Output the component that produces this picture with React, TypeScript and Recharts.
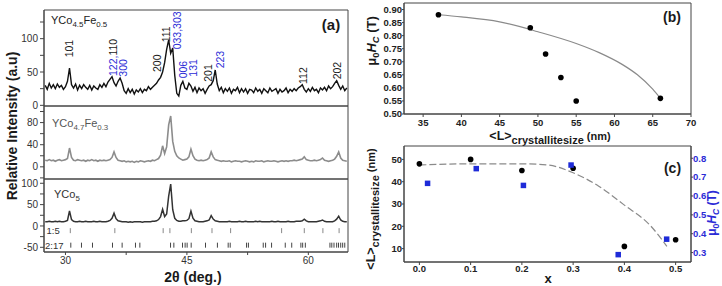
import React from 'react';
import { ComposedChart, Line, Scatter, XAxis, YAxis, ReferenceArea } from 'recharts';

const FONT = "'Liberation Sans', Arial, Helvetica, sans-serif";
const BLUE = '#2b2bd6';
const INK = '#1a1a1a';
const FRAME = '#444';

// ---------- Panel (a): XRD patterns ----------
const twoThetaStart = 27.5;
const twoThetaStep = 0.25;

const intensityFe05 = [
  30, 24,
  33, 26, 31, 25, 32, 27, 30, 24, 28, 36, 56, 31, 26, 32, 23, 30,
  25, 31, 27, 24, 30, 23, 29, 26, 24, 31, 27, 33, 28, 35, 39, 43,
  34, 29, 36, 41, 33, 22, 18, 25, 19, 24, 17, 23, 20, 25, 19, 24,
  22, 28, 24, 27, 30, 33, 38, 42, 50, 64, 84, 98, 78, 86, 45, 18,
  14, 30, 36, 26, 24, 33, 29, 21, 27, 19, 26, 22, 25, 18, 24, 29,
  31, 37, 53, 32, 22, 27, 19, 25, 21, 26, 18, 24, 22, 27, 19, 25,
  20, 25, 18, 24, 23, 19, 26, 21, 24, 18, 25, 22, 19, 26, 21, 23,
  25, 18, 24, 20, 22, 26, 19, 24, 21, 25, 22, 26, 28, 31, 24, 20,
  25, 21, 27, 22, 24, 19, 26, 23, 27, 22, 29, 25, 28, 33, 37, 30,
  24, 29, 22, 26,
];

const intensityFe03 = [
  12, 11,
  13, 11, 12, 10, 12, 13, 11, 12, 13, 15, 34, 17, 12, 11, 13, 12,
  11, 12, 10, 12, 11, 13, 11, 12, 10, 12, 11, 12, 11, 12, 13, 17,
  27, 17, 12, 11, 10, 11, 9, 10, 9, 10, 8, 10, 9, 11, 10, 9,
  10, 11, 10, 12, 11, 13, 15, 21, 38, 24, 36, 76, 92, 46, 28, 20,
  16, 14, 12, 13, 14, 18, 32, 20, 14, 12, 11, 12, 11, 12, 13, 16,
  27, 18, 13, 12, 11, 10, 11, 10, 10, 11, 9, 10, 11, 10, 10, 9,
  10, 11, 10, 9, 10, 9, 11, 10, 10, 11, 9, 10, 11, 10, 10, 11,
  10, 9, 10, 11, 10, 11, 10, 11, 11, 12, 11, 12, 13, 14, 18, 13,
  12, 11, 11, 12, 11, 12, 13, 16, 12, 11, 10, 11, 12, 14, 19, 27,
  16, 12, 11, 10,
];

const intensityCo5 = [
  10, 10,
  11, 10, 10, 11, 10, 11, 10, 10, 11, 13, 35, 15, 11, 10, 10, 11,
  10, 10, 11, 10, 10, 10, 11, 10, 10, 11, 10, 10, 10, 11, 13, 18,
  30, 17, 12, 11, 10, 10, 10, 9, 10, 9, 10, 10, 10, 10, 9, 10,
  10, 10, 10, 11, 11, 12, 15, 22, 39, 22, 28, 70, 98, 38, 18, 13,
  11, 11, 12, 12, 13, 17, 35, 18, 12, 11, 10, 10, 10, 11, 12, 14,
  24, 16, 12, 11, 10, 10, 10, 10, 10, 11, 10, 10, 10, 10, 11, 10,
  10, 11, 10, 10, 10, 10, 11, 10, 11, 10, 10, 10, 10, 10, 11, 10,
  10, 11, 10, 10, 10, 10, 11, 10, 10, 10, 11, 11, 11, 12, 16, 12,
  10, 10, 10, 10, 10, 11, 12, 14, 11, 10, 10, 10, 10, 12, 16, 23,
  14, 11, 10, 10,
];

const peakLabels = [
  { twoTheta: 30.5, height: 72, parts: [['101', INK]] },
  { twoTheta: 35.85, height: 44, parts: [['122,', BLUE], ['110', INK]] },
  { twoTheta: 37.1, height: 43, parts: [['300', BLUE]] },
  { twoTheta: 41.32, height: 50, parts: [['200', INK]] },
  { twoTheta: 42.38, height: 94.5, parts: [['111', INK]] },
  { twoTheta: 43.8, height: 84, parts: [['033,303', BLUE]] },
  { twoTheta: 44.46, height: 40.5, parts: [['006', BLUE]] },
  { twoTheta: 45.7, height: 43, parts: [['131', BLUE]] },
  { twoTheta: 47.67, height: 35.4, parts: [['201', INK]] },
  { twoTheta: 49.03, height: 55.5, parts: [['223', BLUE]] },
  { twoTheta: 59.3, height: 32, parts: [['112', INK]] },
  { twoTheta: 63.53, height: 39, parts: [['202', INK]] },
];

const phase15Positions = [30.6, 36.1, 42.07, 42.9, 45.55, 48.1, 50.4, 56.7, 59.5, 61.8, 63.8];
const phase217Positions = [
  30.66, 31.98, 33.34, 35.81, 37.0, 38.65, 39.19, 42.98, 43.39, 44.46, 44.78, 45.03,
  45.53, 47.3, 48.77, 50.1, 50.35, 52.37, 52.6, 54.43, 54.72, 55.46, 57.15, 57.95,
  59.08, 59.3, 59.63, 62.67, 62.9, 63.17, 63.5, 63.73, 64.0, 64.24, 64.5,
];
const phase15Level = -11;
const phase217Level = -45;

// ---------- Panel (b) ----------
const sizeB = [37, 49, 51, 53, 55, 66];
const coercivityB = [0.88, 0.83, 0.73, 0.64, 0.55, 0.56];
const fitSizeB = [37, 40, 45, 50, 55, 58, 61, 63, 65, 66];
const fitCoercB = [0.88, 0.872, 0.853, 0.815, 0.77, 0.735, 0.69, 0.65, 0.595, 0.56];

// ---------- Panel (c) ----------
const feContent = [0, 0.1, 0.2, 0.3, 0.4, 0.5];
const sizeC = [48, 50, 45, 46, 11, 14];
const feContentH = [0.016, 0.111, 0.203, 0.296, 0.388, 0.4825];
const coercC = [0.667, 0.745, 0.656, 0.764, 0.289, 0.371];
const fitContentC = [0, 0.1, 0.2, 0.25, 0.3, 0.35, 0.4, 0.45, 0.483];
const fitSizeC = [47.5, 48, 48, 47.5, 44, 38, 29.5, 20.5, 11];

// ---------- helpers ----------
const toXY = (arr: number[]) => arr.map((v, i) => ({ x: twoThetaStart + i * twoThetaStep, y: v }));
const pairs = (xs: number[], ys: number[]) => xs.map((x, i) => ({ x, y: ys[i] }));

const X_DOMAIN: [number, number] = [27.35, 64.9];
const tickA = { fontSize: 10, fill: '#333', fontFamily: FONT };
const tickBold = { fontSize: 9.5, fill: '#222', fontFamily: FONT, fontWeight: 700 };
const tickBoldBlue = { fontSize: 9.5, fill: BLUE, fontFamily: FONT, fontWeight: 700 };

const PeakLabel = (props: any) => {
  const { cx, cy } = props;
  const p = props.payload || props;
  if (cx == null || cy == null) return null;
  return (
    <text
      x={cx}
      y={cy}
      transform={`rotate(-90 ${cx} ${cy})`}
      fontSize={10.5}
      fontFamily={FONT}
      dominantBaseline="central"
      textAnchor="start"
    >
      {p.parts.map((part: string[], i: number) => (
        <tspan key={i} fill={part[1]}>{part[0]}</tspan>
      ))}
    </text>
  );
};

const makeTick = (color: string) => (props: any) => {
  const { cx, cy } = props;
  if (cx == null || cy == null) return null;
  return <line x1={cx} x2={cx} y1={cy - 2.5} y2={cy + 2.5} stroke={color} strokeWidth={1} />;
};

const Circle = (color: string, r: number) => (props: any) => {
  const { cx, cy } = props;
  if (cx == null || cy == null) return null;
  return <circle cx={cx} cy={cy} r={r} fill={color} />;
};
const Square = (color: string, s: number) => (props: any) => {
  const { cx, cy } = props;
  if (cx == null || cy == null) return null;
  return <rect x={cx - s / 2} y={cy - s / 2} width={s} height={s} fill={color} />;
};

const Txt = ({ x, y, rot, left, style, children }: any) => (
  <div
    style={{
      position: 'absolute',
      left: x,
      top: y,
      transform: `translate(${left ? '0' : '-50%'},-50%)${rot ? ' rotate(-90deg)' : ''}`,
      whiteSpace: 'nowrap',
      fontFamily: FONT,
      lineHeight: 1,
      color: INK,
      ...style,
    }}
  >
    {children}
  </div>
);
const Sub = ({ children }: any) => (
  <span style={{ fontSize: '0.72em', verticalAlign: '-0.35em', lineHeight: 1 }}>{children}</span>
);

const fmtEvery = (n: number) => (v: number) => (Math.abs(v % n) < 1e-9 ? String(v) : '');

// ---------- components ----------
const XrdChart = ({ top, height, margin, yDomain, yTicks, yFmt, data, color, width, showX, children }: any) => (
  <div style={{ position: 'absolute', left: 0, top }}>
    <ComposedChart width={350} height={height} margin={margin}>
      <XAxis
        xAxisId="x"
        type="number"
        dataKey="x"
        domain={X_DOMAIN}
        allowDataOverflow
        ticks={[30, 37.5, 45, 52.5, 60]}
        tickFormatter={(v: number) => ([30, 45, 60].includes(v) ? String(v) : '')}
        interval={0}
        hide={!showX}
        height={20}
        tick={tickA}
        tickSize={3}
        tickMargin={2}
        stroke={FRAME}
      />
      <YAxis
        yAxisId="y"
        type="number"
        domain={yDomain}
        allowDataOverflow
        ticks={yTicks}
        tickFormatter={yFmt}
        interval={0}
        width={30}
        tick={tickA}
        tickSize={4}
        tickMargin={2}
        stroke={FRAME}
      />
      <ReferenceArea
        xAxisId="x"
        yAxisId="y"
        x1={X_DOMAIN[0]}
        x2={X_DOMAIN[1]}
        y1={yDomain[0]}
        y2={yDomain[1]}
        fill="none"
        stroke={FRAME}
        strokeWidth={1}
        ifOverflow="visible"
      />
      <Line
        xAxisId="x"
        yAxisId="y"
        data={data}
        dataKey="y"
        type="linear"
        stroke={color}
        strokeWidth={width}
        dot={false}
        isAnimationActive={false}
      />
      {children}
    </ComposedChart>
  </div>
);

const SizeLabel = () => (
  <>
    &lt;L&gt;<span style={{ fontSize: 11, verticalAlign: '-0.45em', lineHeight: 1 }}>crystallitesize</span>
    <span style={{ fontSize: 11 }}> (nm)</span>
  </>
);

export default function App() {
  const dataFe05 = toXY(intensityFe05);
  const dataFe03 = toXY(intensityFe03);
  const dataCo5 = toXY(intensityCo5);
  const labelData = peakLabels.map((p) => ({ x: p.twoTheta, y: p.height, parts: p.parts }));
  const ph15 = phase15Positions.map((x) => ({ x, y: phase15Level }));
  const ph217 = phase217Positions.map((x) => ({ x, y: phase217Level }));

  return (
    <div
      style={{
        position: 'absolute',
        left: 0,
        top: 0,
        width: 722,
        height: 286,
        background: '#fff',
        overflow: 'hidden',
      }}
    >
      {/* Panel (a) */}
      <XrdChart
        top={0}
        height={110}
        margin={{ top: 10, right: 2, bottom: 4, left: 14 }}
        yDomain={[-1, 143]}
        yTicks={[0, 25, 50, 75, 100, 125]}
        yFmt={fmtEvery(50)}
        data={dataFe05}
        color="#111"
        width={1.4}
      >
        <Scatter
          xAxisId="x"
          yAxisId="y"
          data={labelData}
          dataKey="y"
          shape={PeakLabel}
          isAnimationActive={false}
        />
      </XrdChart>
      <XrdChart
        top={100}
        height={83}
        margin={{ top: 6, right: 2, bottom: 4, left: 14 }}
        yDomain={[-22, 110]}
        yTicks={[-20, 0, 20, 40, 60, 80, 100]}
        yFmt={(v: number) => ([0, 40, 80].includes(v) ? String(v) : '')}
        data={dataFe03}
        color="#8c8c8c"
        width={1.6}
      />
      <XrdChart
        top={173}
        height={99}
        margin={{ top: 6, right: 2, bottom: 0, left: 14 }}
        yDomain={[-61, 110]}
        yTicks={[-50, -25, 0, 25, 50, 75, 100]}
        yFmt={fmtEvery(50)}
        data={dataCo5}
        color="#333"
        width={1.5}
        showX
      >
        <Scatter xAxisId="x" yAxisId="y" data={ph15} dataKey="y" shape={makeTick('#888')} isAnimationActive={false} />
        <Scatter xAxisId="x" yAxisId="y" data={ph217} dataKey="y" shape={makeTick('#444')} isAnimationActive={false} />
      </XrdChart>

      <Txt x={12} y={126} rot style={{ fontSize: 14, fontWeight: 700 }}>Relative Intensity (a.u)</Txt>
      <Txt x={193} y={277} style={{ fontSize: 14, fontWeight: 700 }}>2θ (deg.)</Txt>
      <Txt x={331} y={24} style={{ fontSize: 15, fontWeight: 700 }}>(a)</Txt>
      <Txt x={51} y={22} left style={{ fontSize: 11, color: '#222' }}>
        YCo<Sub>4.5</Sub>Fe<Sub>0.5</Sub>
      </Txt>
      <Txt x={52} y={125} left style={{ fontSize: 11, color: '#555' }}>
        YCo<Sub>4.7</Sub>Fe<Sub>0.3</Sub>
      </Txt>
      <Txt x={54} y={196} left style={{ fontSize: 11, color: '#333' }}>
        YCo<Sub>5</Sub>
      </Txt>
      <Txt x={46.5} y={231} left style={{ fontSize: 9.5, color: '#333' }}>1:5</Txt>
      <Txt x={45} y={245.5} left style={{ fontSize: 9.5, color: '#333' }}>2:17</Txt>

      {/* Panel (b) */}
      <div style={{ position: 'absolute', left: 360, top: 0 }}>
        <ComposedChart width={362} height={140} margin={{ top: 3, right: 31, bottom: 0, left: 4 }}>
          <XAxis
            xAxisId="x"
            type="number"
            dataKey="x"
            domain={[32.5, 70]}
            allowDataOverflow
            ticks={[35, 40, 45, 50, 55, 60, 65, 70]}
            interval={0}
            height={26}
            tick={tickBold}
            tickSize={3}
            tickMargin={2}
            stroke={FRAME}
          />
          <YAxis
            yAxisId="y"
            type="number"
            domain={[0.5, 0.925]}
            allowDataOverflow
            ticks={[0.5, 0.55, 0.6, 0.65, 0.7, 0.75, 0.8, 0.85, 0.9]}
            tickFormatter={(v: number) => v.toFixed(2)}
            interval={0}
            width={40}
            tick={tickBold}
            tickSize={2}
            tickMargin={0}
            stroke={FRAME}
          />
          <ReferenceArea
            xAxisId="x"
            yAxisId="y"
            x1={32.5}
            x2={70}
            y1={0.5}
            y2={0.925}
            fill="none"
            stroke={FRAME}
            ifOverflow="visible"
          />
          <Line
            xAxisId="x"
            yAxisId="y"
            data={pairs(fitSizeB, fitCoercB)}
            dataKey="y"
            type="monotone"
            stroke="#8a8a8a"
            strokeWidth={1.2}
            dot={false}
            isAnimationActive={false}
          />
          <Scatter
            xAxisId="x"
            yAxisId="y"
            data={pairs(sizeB, coercivityB)}
            dataKey="y"
            shape={Circle('#000', 2.8)}
            isAnimationActive={false}
          />
        </ComposedChart>
      </div>
      <Txt x={672} y={17} style={{ fontSize: 14, fontWeight: 700 }}>(b)</Txt>
      <Txt x={373} y={41} rot style={{ fontSize: 13, fontWeight: 700 }}>
        μ<Sub>0</Sub><i>H</i><Sub><i>C</i></Sub> (T)
      </Txt>
      <Txt x={550} y={138} style={{ fontSize: 12.5, fontWeight: 700 }}>
        <SizeLabel />
      </Txt>

      {/* Panel (c) */}
      <div style={{ position: 'absolute', left: 360, top: 140 }}>
        <ComposedChart width={362} height={146} margin={{ top: 6, right: 5, bottom: 0, left: 4 }}>
          <XAxis
            xAxisId="x"
            type="number"
            dataKey="x"
            domain={[-0.03, 0.53]}
            allowDataOverflow
            ticks={[0, 0.1, 0.2, 0.3, 0.4, 0.5]}
            tickFormatter={(v: number) => v.toFixed(1)}
            interval={0}
            height={24}
            tick={tickBold}
            tickSize={3}
            tickMargin={0}
            stroke={FRAME}
          />
          <YAxis
            yAxisId="L"
            type="number"
            domain={[4, 56]}
            allowDataOverflow
            ticks={[10, 20, 30, 40, 50]}
            interval={0}
            width={40}
            tick={tickBold}
            tickSize={2}
            tickMargin={0}
            stroke={FRAME}
          />
          <YAxis
            yAxisId="R"
            orientation="right"
            type="number"
            domain={[0.25, 0.865]}
            allowDataOverflow
            ticks={[0.3, 0.4, 0.5, 0.6, 0.7, 0.8]}
            tickFormatter={(v: number) => v.toFixed(1)}
            interval={0}
            width={26}
            tick={tickBoldBlue}
            tickSize={2}
            tickMargin={0}
            stroke={FRAME}
          />
          <ReferenceArea
            xAxisId="x"
            yAxisId="L"
            x1={-0.03}
            x2={0.53}
            y1={4}
            y2={56}
            fill="none"
            stroke={FRAME}
            ifOverflow="visible"
          />
          <Line
            xAxisId="x"
            yAxisId="L"
            data={pairs(fitContentC, fitSizeC)}
            dataKey="y"
            type="monotone"
            stroke="#8a8a8a"
            strokeWidth={1.2}
            strokeDasharray="7 3"
            dot={false}
            isAnimationActive={false}
          />
          <Scatter
            xAxisId="x"
            yAxisId="L"
            data={pairs(feContent, sizeC)}
            dataKey="y"
            shape={Circle('#000', 2.8)}
            isAnimationActive={false}
          />
          <Scatter
            xAxisId="x"
            yAxisId="R"
            data={pairs(feContentH, coercC)}
            dataKey="y"
            shape={Square('#1e2bd8', 5.5)}
            isAnimationActive={false}
          />
        </ComposedChart>
      </div>
      <Txt x={672.5} y={167.5} style={{ fontSize: 14, fontWeight: 700 }}>(c)</Txt>
      <Txt x={373} y={209} rot style={{ fontSize: 12.5, fontWeight: 700 }}>
        <SizeLabel />
      </Txt>
      <Txt x={713} y={213} rot style={{ fontSize: 12, fontWeight: 700, color: BLUE }}>
        μ<Sub>0</Sub><i>H</i><Sub><i>C</i></Sub> (T)
      </Txt>
      <Txt x={548} y={277.5} style={{ fontSize: 13, fontWeight: 700 }}>x</Txt>
    </div>
  );
}
